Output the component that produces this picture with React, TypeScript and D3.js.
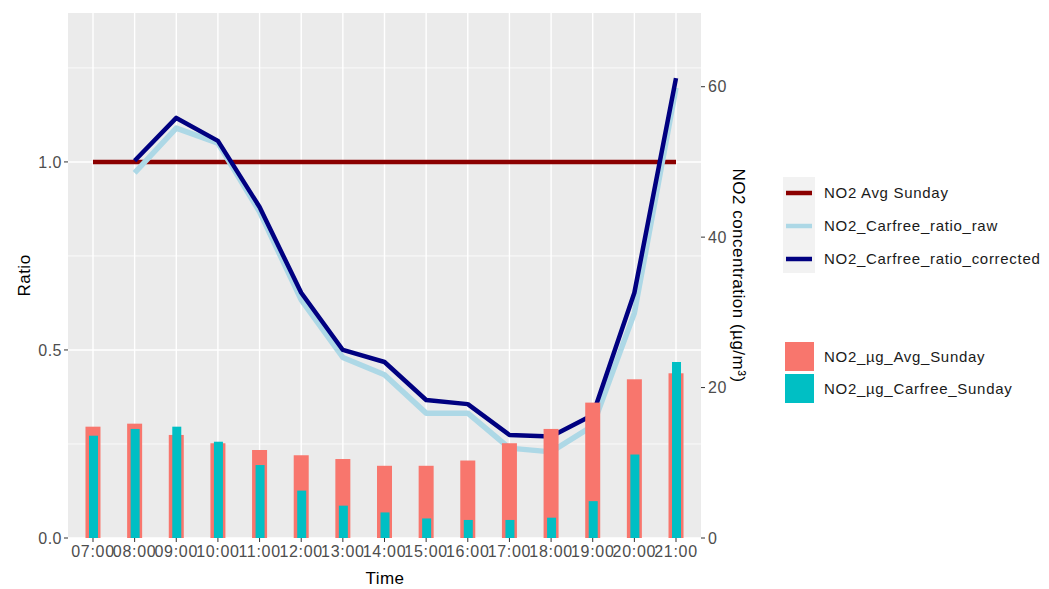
import * as d3 from 'd3';

const hours = ['07:00', '08:00', '09:00', '10:00', '11:00', '12:00', '13:00', '14:00', '15:00', '16:00', '17:00', '18:00', '19:00', '20:00', '21:00'];

// NO2 concentration bars (µg/m³, right axis)
const avgSunday = [14.8, 15.2, 13.7, 12.6, 11.7, 11.0, 10.5, 9.6, 9.6, 10.3, 12.6, 14.5, 18.0, 21.1, 21.9];
const carfreeSunday = [13.6, 14.5, 14.8, 12.8, 9.7, 6.3, 4.3, 3.4, 2.6, 2.4, 2.4, 2.7, 4.9, 11.1, 23.4];

// Ratio lines (left axis), null = no value
const avgRatio = [1, 1, 1, 1, 1, 1, 1, 1, 1, 1, 1, 1, 1, 1, 1];
const ratioRaw = [null, 0.971, 1.09, 1.05, 0.867, 0.633, 0.48, 0.434, 0.332, 0.332, 0.239, 0.229, 0.298, 0.598, 1.197];
const ratioCorrected = [null, 1.003, 1.117, 1.056, 0.88, 0.652, 0.5, 0.468, 0.367, 0.356, 0.274, 0.27, 0.327, 0.652, 1.223];

const leftTicks = [0, 0.5, 1.0];
const rightTicks = [0, 20, 40, 60];
const minorTicks = [0.25, 0.75, 1.25];

const lineLegend = [
  { label: 'NO2 Avg Sunday', color: '#8B0000' },
  { label: 'NO2_Carfree_ratio_raw', color: '#ADD8E6' },
  { label: 'NO2_Carfree_ratio_corrected', color: '#000080' },
];
const barLegend = [
  { label: 'NO2_µg_Avg_Sunday', color: '#F8766D' },
  { label: 'NO2_µg_Carfree_Sunday', color: '#00BFC4' },
];

const W = 1049;
const H = 589;
const P = { left: 68, right: 701, top: 13, bottom: 538 };
const FONT = 'Liberation Sans, Arial, sans-serif';

export default function App() {
  const x = d3.scalePoint<string>().domain(hours).range([P.left, P.right]).padding(0.6);
  const yL = d3.scaleLinear().domain([0, 1.396]).range([P.bottom, P.top]);
  const yR = d3.scaleLinear().domain([0, 1.396 * 50]).range([P.bottom, P.top]);

  const line = d3.line<number | null>()
    .defined(d => d != null)
    .x((_, i) => x(hours[i])!)
    .y(d => yL(d as number));

  const wideBar = 15;
  const narrowBar = 9;

  return (
    <div style={{ position: 'absolute', left: 0, top: 0 }}>
      <svg width={W} height={H} style={{ display: 'block', background: '#fff' }} fontFamily={FONT}>
        <rect x={P.left} y={P.top} width={P.right - P.left} height={P.bottom - P.top} fill="#EBEBEB" />
        {/* grid */}
        {minorTicks.map(t => (
          <line key={'m' + t} x1={P.left} x2={P.right} y1={yL(t)} y2={yL(t)} stroke="#fff" strokeWidth={0.8} />
        ))}
        {leftTicks.map(t => (
          <line key={'g' + t} x1={P.left} x2={P.right} y1={yL(t)} y2={yL(t)} stroke="#fff" strokeWidth={1.4} />
        ))}
        {hours.map(h => (
          <line key={'v' + h} x1={x(h)} x2={x(h)} y1={P.top} y2={P.bottom} stroke="#fff" strokeWidth={1.4} />
        ))}

        {/* lines */}
        <path d={line(avgRatio)!} fill="none" stroke="#8B0000" strokeWidth={4.5} />
        <path d={line(ratioRaw)!} fill="none" stroke="#ADD8E6" strokeWidth={5.5} strokeLinejoin="round" />
        <path d={line(ratioCorrected)!} fill="none" stroke="#000080" strokeWidth={4.5} strokeLinejoin="round" />

        {/* bars drawn over the lines */}
        {hours.map((h, i) => (
          <rect key={'a' + h} x={x(h)! - wideBar / 2} y={yR(avgSunday[i])} width={wideBar}
            height={P.bottom - yR(avgSunday[i])} fill="#F8766D" />
        ))}
        {hours.map((h, i) => (
          <rect key={'c' + h} x={x(h)! - narrowBar / 2 + 0.5} y={yR(carfreeSunday[i])} width={narrowBar}
            height={P.bottom - yR(carfreeSunday[i])} fill="#00BFC4" />
        ))}

        {/* left axis */}
        {leftTicks.map(t => (
          <g key={'lt' + t}>
            <line x1={P.left - 4} x2={P.left} y1={yL(t)} y2={yL(t)} stroke="#333" strokeWidth={1} />
            <text x={P.left - 6} y={yL(t)} dy="0.35em" textAnchor="end" fontSize={16} fill="#4D4D4D" letterSpacing={0.5}>
              {d3.format('.1f')(t)}
            </text>
          </g>
        ))}
        {/* right axis */}
        {rightTicks.map(t => (
          <g key={'rt' + t}>
            <line x1={P.right} x2={P.right + 4} y1={yR(t)} y2={yR(t)} stroke="#333" strokeWidth={1} />
            <text x={P.right + 7} y={yR(t)} dy="0.35em" fontSize={16} fill="#4D4D4D" letterSpacing={0.5}>{t}</text>
          </g>
        ))}
        {/* x axis */}
        {hours.map(h => (
          <g key={'xt' + h}>
            <line x1={x(h)} x2={x(h)} y1={P.bottom} y2={P.bottom + 4} stroke="#333" strokeWidth={1} />
            <text x={x(h)} y={P.bottom + 19} textAnchor="middle" fontSize={16} fill="#4D4D4D" letterSpacing={0.7}>{h}</text>
          </g>
        ))}

        {/* axis titles */}
        <text x={385} y={584} textAnchor="middle" fontSize={17} fill="#000" letterSpacing={0.5}>Time</text>
        <text transform={`translate(30,${(P.top + P.bottom) / 2}) rotate(-90)`} textAnchor="middle" fontSize={17} fill="#000" letterSpacing={0.5}>Ratio</text>
        <text transform={`translate(733,${(P.top + P.bottom) / 2}) rotate(90)`} textAnchor="middle" fontSize={17} fill="#000" letterSpacing={0.5}>
          NO2 concentration (µg/m³)
        </text>

        {/* legends */}
        <rect x={783} y={177} width={32} height={96} fill="#F2F2F2" />
        {lineLegend.map((d, i) => {
          const cy = 193 + i * 33;
          return (
            <g key={d.label}>
              <line x1={786} x2={812} y1={cy} y2={cy} stroke={d.color} strokeWidth={4.5} />
              <text x={824} y={cy} dy="0.35em" fontSize={15} fill="#1a1a1a" letterSpacing={0.7}>{d.label}</text>
            </g>
          );
        })}
        {barLegend.map((d, i) => {
          const top = 342 + i * 32;
          return (
            <g key={d.label}>
              <rect x={785} y={top} width={29} height={29} fill={d.color} />
              <text x={824} y={top + 15} dy="0.35em" fontSize={15} fill="#1a1a1a" letterSpacing={0.7}>{d.label}</text>
            </g>
          );
        })}
      </svg>
    </div>
  );
}
